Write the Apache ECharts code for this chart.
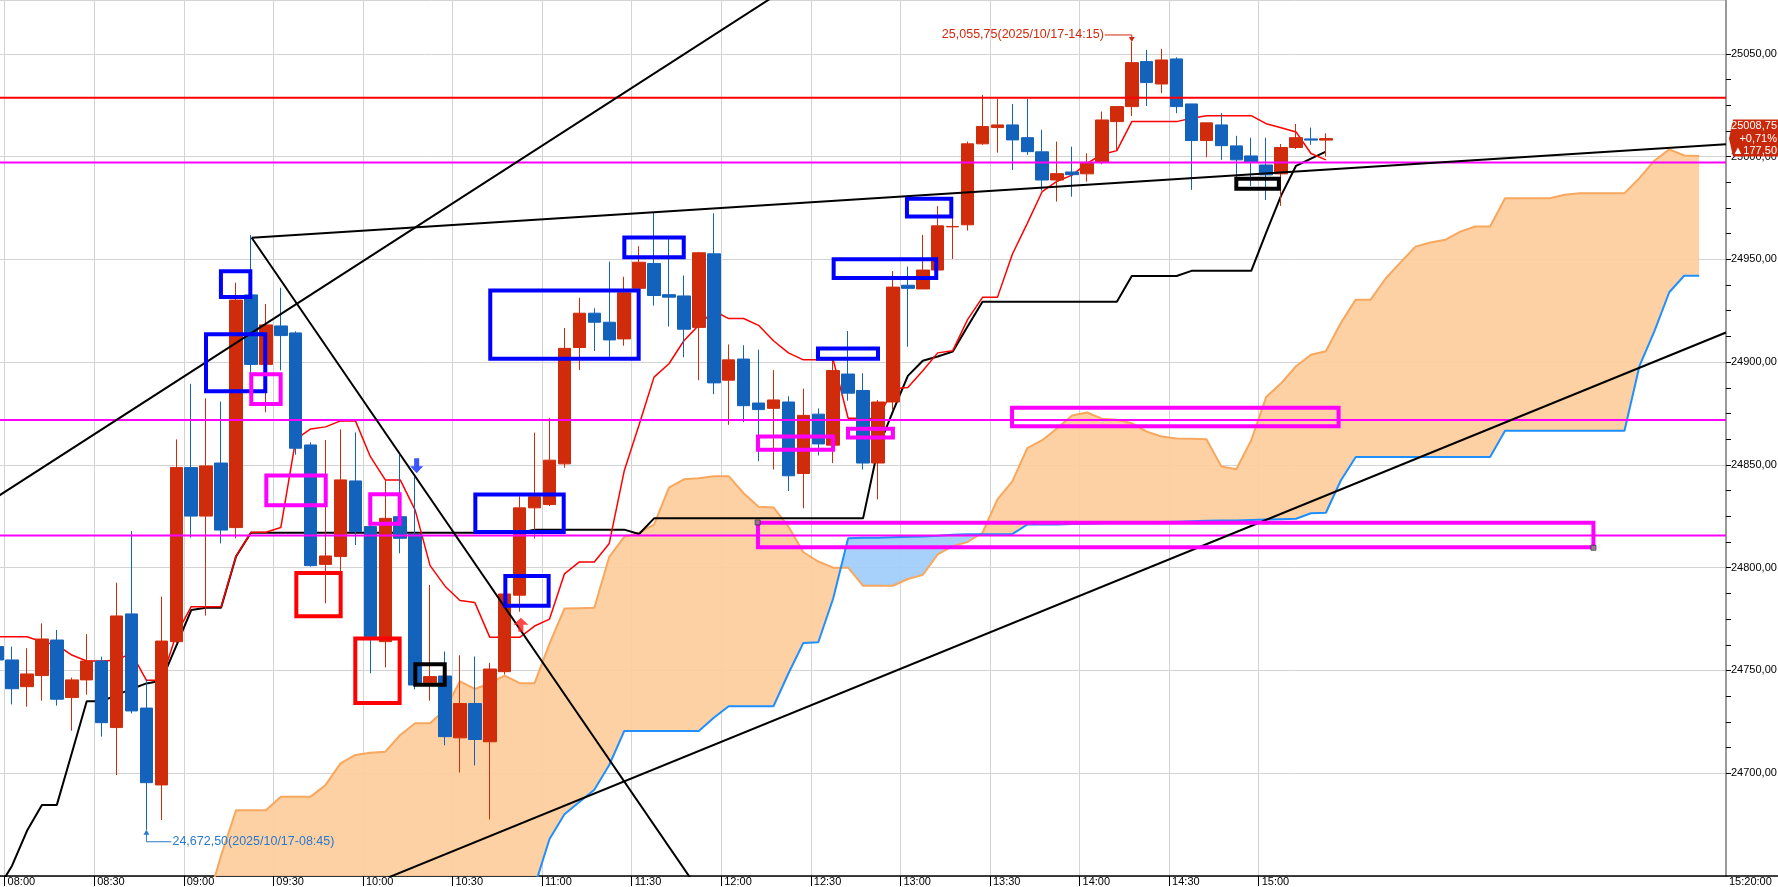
<!DOCTYPE html>
<html>
<head>
<meta charset="utf-8">
<script src="https://cdn.jsdelivr.net/npm/echarts@6/dist/echarts.min.js"></script>
<style>
html,body{margin:0;padding:0;background:#ffffff;}
#c{width:1778px;height:887px;}
</style>
</head>
<body>
<div id="c"></div>
<script>
// ================= DATA =================
// x unit = one 5-minute slot; slot 0 starts at 08:00
const FIRST_SLOT = -1;           // 07:55 bar, partially visible at the left edge
const SLOTS_PER_LABEL = 6;       // 30 minutes
const xTickLabels = ['08:00','08:30','09:00','09:30','10:00','10:30','11:00','11:30',
                     '12:00','12:30','13:00','13:30','14:00','14:30','15:00'];
const lastTimeLabel = '15:20:00';
// price scale labels and the number of small ticks per label step
const yLabelValues = [24700, 24750, 24800, 24850, 24900, 24950, 25000, 25050];
const Y_TICKS_PER_STEP = 4;

// [open, close, low, high] from 07:55 to 15:20
const candles = [
[24761.6,24755.1,24752.0,24764.0],
[24755.1,24741.1,24733.5,24761.6],[24742.1,24748.3,24732.4,24760.8],[24747.5,24765.3,24735.3,24772.9],
[24764.8,24736.0,24732.9,24769.7],[24736.8,24745.4,24720.7,24746.5],[24745.4,24754.6,24738.2,24767.7],
[24754.6,24724.6,24717.8,24756.7],[24722.2,24776.5,24699.1,24792.7],[24777.5,24730.3,24729.1,24817.8],
[24731.7,24695.4,24672.5,24745.8],[24694.3,24764.3,24677.2,24785.9],[24764.0,24848.7,24763.0,24862.4],
[24848.7,24825.1,24814.6,24889.4],[24825.1,24849.5,24776.7,24882.4],[24850.9,24818.3,24811.8,24880.8],
[24819.5,24930.2,24814.3,24938.7],[24932.7,24898.9,24890.0,24961.8],[24898.9,24918.1,24875.6,24928.3],
[24917.6,24912.9,24896.0,24936.2],[24914.2,24858.1,24855.0,24915.0],[24859.7,24801.0,24800.5,24861.0],
[24801.6,24805.7,24782.7,24862.1],[24805.4,24842.7,24798.4,24867.3],[24842.2,24817.5,24811.0,24865.8],
[24820.0,24766.4,24748.6,24821.0],[24764.0,24824.0,24751.5,24842.7],[24824.8,24814.3,24807.0,24854.8],
[24816.2,24742.9,24740.8,24844.3],[24744.0,24747.0,24735.3,24791.6],[24747.3,24717.8,24713.6,24759.2],
[24717.2,24733.9,24700.4,24757.4],[24733.9,24716.4,24703.8,24756.8],[24715.3,24750.7,24677.5,24753.7],
[24749.4,24787.2,24748.0,24788.0],[24786.6,24829.1,24778.6,24834.7],[24829.1,24834.5,24814.2,24865.7],
[24830.7,24852.3,24830.0,24872.8],[24850.5,24906.7,24848.6,24916.6],[24907.1,24923.8,24896.1,24931.3],
[24923.8,24919.4,24905.4,24926.2],[24919.4,24910.8,24902.6,24948.9],[24911.3,24933.7,24908.0,24941.5],
[24935.9,24948.6,24935.9,24956.4],[24948.0,24932.4,24927.5,24972.8],[24932.8,24931.6,24917.3,24960.7],
[24932.2,24916.0,24902.4,24942.1],[24916.9,24953.2,24891.2,24953.6],[24952.7,24889.9,24884.4,24972.4],
[24891.2,24901.1,24869.5,24908.6],[24901.5,24878.8,24870.8,24908.2],[24880.1,24876.9,24851.8,24906.1],
[24877.5,24881.6,24847.7,24896.1],[24880.6,24844.7,24837.3,24883.4],[24845.8,24874.1,24828.9,24887.1],
[24874.7,24860.2,24854.6,24877.5],[24859.6,24895.9,24850.9,24901.1],[24894.2,24884.9,24881.2,24915.1],
[24886.2,24850.9,24847.7,24894.6],[24850.9,24880.6,24833.2,24881.6],[24880.6,24936.5,24876.9,24944.3],
[24937.4,24935.9,24907.5,24946.5],[24935.6,24944.8,24935.6,24961.9],[24944.8,24966.3,24944.0,24975.9],
[24965.8,24966.0,24950.2,24971.0],[24966.8,25006.2,24964.0,25007.3],[25006.2,25014.6,25005.7,25030.0],
[25014.1,25015.4,25001.9,25028.1],[25015.4,25008.1,24993.5,25025.6],[25009.2,25002.4,25000.8,25028.1],
[25002.3,24988.6,24983.4,25013.0],[24988.6,24991.7,24978.1,25007.3],[24992.5,24991.2,24980.5,25004.8],
[24991.6,24997.2,24987.8,25001.6],[24997.2,25017.8,24996.3,25021.9],[25017.0,25024.3,25003.2,25024.6],
[25024.3,25045.7,25019.8,25055.75],[25046.2,25036.0,25024.6,25051.9],[25035.3,25047.0,25030.8,25052.4],
[25047.5,25024.3,25021.1,25048.3],[25025.6,25007.8,24983.8,25025.6],[25007.8,25016.4,24999.7,25016.4],
[25015.4,25005.3,24998.4,25021.1],[25005.2,24998.4,24985.7,25010.1],[25000.3,24997.1,24985.7,25009.2],
[24995.9,24991.1,24978.9,25009.2],[24991.6,25004.4,24976.0,25006.1],[25004.4,25009.2,25003.7,25015.9],
[25008.6,25008.0,25005.7,25014.1],[25008.0,25008.75,25000.0,25011.3]
];

// conversion line (red), one value per bar from 07:55
const tenkan = [
24766.4,24766.4,24766.4,24764.0,24762.4,24757.5,24754.6,24754.6,24755.0,24758.4,
24745.2,24745.2,24767.5,24781.0,24781.0,24781.0,24805.6,24817.2,24817.2,24819.5,
24862.4,24867.5,24868.5,24871.4,24871.4,24854.0,24842.7,24842.7,24828.0,24801.0,
24791.0,24784.0,24783.0,24766.1,24766.1,24766.1,24771.6,24775.0,24797.0,24802.8,
24802.8,24811.8,24847.0,24869.5,24892.7,24899.2,24910.4,24918.0,24925.0,24921.2,
24921.2,24917.9,24910.4,24904.5,24901.1,24901.1,24901.1,24872.7,24872.7,24872.5,
24887.0,24887.7,24895.8,24904.5,24905.5,24920.7,24931.5,24931.5,24952.5,24967.5,
24983.0,24988.0,24991.0,24996.7,25001.0,25002.9,25017.0,25017.0,25017.0,25017.0,
25018.6,25019.9,25019.9,25019.9,25019.9,25016.0,25014.0,25012.0,25001.5,24998.4
];

// base line (black), one value per bar from 07:55
const kijun = [
24643.0,24655.0,24672.0,24684.6,24684.6,24709.7,24735.0,24735.0,24738.0,24741.0,
24743.7,24745.0,24762.0,24779.4,24780.5,24780.5,24805.4,24817.0,24817.0,24817.0,
24817.0,24817.0,24817.0,24817.0,24817.0,24817.0,24817.0,24817.0,24817.0,24817.0,
24817.0,24817.0,24817.0,24817.0,24817.0,24817.0,24818.5,24818.5,24818.5,24818.5,
24818.5,24818.5,24818.5,24816.4,24824.0,24824.0,24824.0,24824.0,24824.0,24824.0,
24824.0,24824.0,24824.0,24824.0,24824.0,24824.0,24824.0,24824.0,24824.0,24858.0,
24876.0,24893.3,24900.7,24902.7,24905.1,24917.3,24929.4,24929.4,24929.4,24929.4,
24929.4,24929.4,24929.4,24929.4,24929.4,24929.4,24941.9,24941.9,24941.9,24941.9,
24944.4,24944.4,24944.4,24944.4,24944.4,24963.0,24981.0,24995.5,24999.0,25002.4
];

// leading span A (orange edge) from slot 13 to slot 113
const SPAN_A_START = 13;
const spanA = [
24635.0,24660.0,24682.0,24682.0,24682.0,24688.6,24688.6,24688.6,
24694.3,24704.8,24708.9,24710.0,24710.5,24718.6,24724.3,24724.3,24731.0,24744.7,
24741.0,24743.8,24747.5,24743.8,24743.8,24763.0,24780.1,24780.3,24780.5,24805.3,
24815.0,24817.0,24821.0,24839.0,24843.0,24843.5,24844.5,24844.5,24836.2,24829.6,
24829.3,24820.0,24807.5,24803.0,24800.0,24800.0,24791.2,24791.2,24791.2,24794.5,
24796.5,24806.5,24810.5,24812.5,24817.0,24833.2,24842.0,24858.2,24862.0,24867.8,
24874.0,24875.5,24872.5,24872.0,24870.3,24866.2,24863.8,24862.8,24862.7,24862.5,
24849.2,24847.9,24862.0,24883.0,24889.7,24898.0,24903.6,24905.3,24919.0,24930.4,
24930.4,24940.7,24948.5,24956.2,24958.2,24959.5,24963.5,24966.0,24966.0,24979.7,
24979.7,24979.7,24979.7,24981.4,24982.2,24982.2,24982.2,24982.2,24989.5,24998.0,
25003.5,25000.5,25000.3
];

// leading span B (blue line) from slot 34 to slot 113
const SPAN_B_START = 34;
const spanB = [
24640.0,24645.0,24668.0,24680.0,24686.0,24692.0,24704.0,24720.5,24720.5,24720.5,
24720.5,24720.5,24720.5,24727.0,24732.6,24732.6,24732.6,24732.6,24748.5,24763.4,
24763.7,24785.0,24814.3,24814.6,24814.6,24814.8,24815.0,24815.2,24815.5,24816.0,
24816.3,24816.3,24816.3,24816.3,24821.0,24821.0,24821.0,24821.2,24821.4,24821.6,
24821.8,24822.0,24822.0,24822.2,24822.4,24822.6,24822.8,24823.0,24823.0,24823.2,
24823.4,24823.6,24823.8,24826.5,24826.7,24842.4,24853.8,24853.8,24853.8,24853.8,
24853.8,24853.8,24853.8,24853.8,24853.8,24853.8,24866.6,24866.6,24866.6,24866.6,
24866.6,24866.6,24866.6,24866.6,24866.6,24898.0,24915.0,24934.0,24942.0,24942.0
];

// horizontal price levels
const redLevels = [25028.6];
const magentaLevels = [24997.1, 24871.8, 24815.6];

// trend lines [slot1, price1, slot2, price2]
const trendLines = [
  [-1, 24832.1, 55, 25094.2],
  [16.55, 24960.5, 62, 24478.7],
  [16.55, 24960.5, 115.3, 25006.0],
  [25, 24647.2, 115.3, 24914.4]
];

// rectangles [slot1, price1, slot2, price2]
const blueBoxes = [
  [14.49,24944.2,16.46,24931.7],[13.49,24913.5,17.46,24885.8],[32.53,24934.9,42.47,24901.7],
  [41.51,24960.6,45.49,24951.0],[31.53,24835.6,37.45,24817.4],[33.54,24795.9,36.44,24781.5],
  [54.48,24906.6,58.50,24901.7],[55.53,24950.0,62.40,24940.9],[60.44,24979.5,63.41,24970.9]
];
const magentaBoxes = [
  [16.52,24894.1,18.49,24879.6],[17.53,24844.9,21.51,24830.4],[24.49,24835.7,26.46,24821.4],
  [50.46,24863.8,55.49,24857.4],[56.49,24867.6,59.50,24863.3],[67.48,24877.8,89.35,24868.8],
  [50.46,24821.9,106.42,24809.9]
];
const redBoxes = [[19.54,24797.4,22.51,24776.4],[23.49,24765.5,26.46,24734.2]];
const blackBoxes = [[27.51,24753.0,29.48,24743.1],[82.50,24989.2,85.35,24984.4]];
const boxHandles = [[50.44,24822.0],[106.42,24809.7]];

// signal arrows
const downSignals = [[27.6, 24849.6]];
const upSignals = [[34.58, 24772.2]];

// extreme annotations and last price tag
const lowMark = {slot: 9, value: 24672.5, text: '24,672,50(2025/10/17-08:45)'};
const highMark = {slot: 75, value: 25055.75, text: '25,055,75(2025/10/17-14:15)'};
const lastPrice = 25008.75;
const priceTagLines = ['25008,75', '+0,71%', '\u25B2177,50'];

// ================= CHART =================
const X_MIN = -0.308, X_MAX = 115.3, Y_MIN = 24650, Y_MAX = 25076.17;
const FONT = '"Liberation Sans", Arial, sans-serif';
const UP = '#d02c0c', DOWN = '#1363bd';
const CLOUD_UP = '#fdcd9b', CLOUD_DOWN = '#9fcdfb';

const mid = k => k + 0.5;
const candleData = candles.map((c, i) => [mid(FIRST_SLOT + i), c[0], c[1], c[2], c[3]]);
const tenkanData = tenkan.map((v, i) => [mid(FIRST_SLOT + i), v]);
const kijunData = kijun.map((v, i) => [mid(FIRST_SLOT + i), v]);
const spanAData = spanA.map((v, i) => [mid(SPAN_A_START + i), v]);
const spanBData = spanB.map((v, i) => [mid(SPAN_B_START + i), v]);
const tickSlots = xTickLabels.map((_, i) => i * SLOTS_PER_LABEL);
const yTickValues = [];
yLabelValues.forEach((v, i) => {
  yTickValues.push(v);
  if (i < yLabelValues.length - 1) {
    const step = (yLabelValues[i + 1] - v) / Y_TICKS_PER_STEP;
    for (let j = 1; j < Y_TICKS_PER_STEP; j++) yTickValues.push(v + j * step);
  }
});

function cloudRuns() {
  const pts = [];
  for (let i = 0; i < spanA.length; i++) {
    const k = SPAN_A_START + i, x = mid(k), a = spanA[i];
    const bi = k - SPAN_B_START;
    const b = (bi >= 0 && bi < spanB.length) ? spanB[bi] : Y_MIN;
    if (pts.length) {
      const p = pts[pts.length - 1];
      const d0 = p.a - p.b, d1 = a - b;
      if ((d0 > 0 && d1 < 0) || (d0 < 0 && d1 > 0)) {
        const t = d0 / (d0 - d1);
        const yc = p.a + t * (a - p.a);
        pts.push({x: p.x + t * (x - p.x), a: yc, b: yc});
      }
    }
    pts.push({x, a, b});
  }
  const runs = [];
  let cur = null;
  pts.forEach(p => {
    const s = p.a > p.b ? 1 : (p.a < p.b ? -1 : 0);
    if (!cur) { cur = {sign: s, pts: [p]}; return; }
    if (s === 0) { cur.pts.push(p); runs.push(cur); cur = {sign: 0, pts: [p]}; return; }
    if (cur.sign === 0) cur.sign = s;
    if (s === cur.sign) cur.pts.push(p);
    else { const last = cur.pts[cur.pts.length - 1]; runs.push(cur); cur = {sign: s, pts: [last, p]}; }
  });
  if (cur) runs.push(cur);
  return runs;
}
const runs = cloudRuns();

function boxSeries(data, color) {
  return {
    type: 'custom', z: 4, silent: true, data: data,
    encode: {x: [0, 2], y: [1, 3]},
    renderItem: function (params, api) {
      const p1 = api.coord([api.value(0), api.value(1)]);
      const p2 = api.coord([api.value(2), api.value(3)]);
      return {type: 'rect',
        shape: {x: Math.min(p1[0], p2[0]), y: Math.min(p1[1], p2[1]),
                width: Math.abs(p2[0] - p1[0]), height: Math.abs(p2[1] - p1[1])},
        style: {fill: 'none', stroke: color, lineWidth: 4}};
    }
  };
}
function levelSeries(levels, color) {
  return levels.map(v => ({type: 'line', z: 3, silent: true, symbol: 'none',
    data: [[X_MIN, v], [X_MAX, v]], lineStyle: {color: color, width: 2}}));
}

const chart = echarts.init(document.getElementById('c'), null, {renderer: 'canvas'});
const option = {
  animation: false,
  backgroundColor: '#ffffff',
  grid: {left: 0, right: 52, top: 0, bottom: 11, containLabel: false, outerBoundsMode: 'none'},
  xAxis: {
    type: 'value', min: X_MIN, max: X_MAX, position: 'bottom',
    axisLine: {show: true, onZero: false, lineStyle: {color: '#000', width: 1.5}},
    axisTick: {show: true, length: 10, lineStyle: {color: '#000'}, customValues: tickSlots},
    axisLabel: {customValues: tickSlots.concat([X_MAX]), align: 'left', margin: 0, padding: [0, 0, 0, 3],
      fontSize: 11, fontFamily: FONT, color: '#000',
      formatter: v => (Math.abs(v - X_MAX) < 1e-6) ? lastTimeLabel : (xTickLabels[Math.round(v / SLOTS_PER_LABEL)] || '')},
    splitLine: {show: true, lineStyle: {color: '#d3d3d3', width: 1}}
  },
  yAxis: [
    { // price scale with labels and ticks
      type: 'value', position: 'right', min: Y_MIN, max: Y_MAX, interval: 50,
      axisLine: {show: true, onZero: false, lineStyle: {color: '#9a9a9a', width: 2}},
      axisTick: {show: true, length: 5, lineStyle: {color: '#000'}, customValues: yTickValues},
      axisLabel: {customValues: yLabelValues, margin: 5, fontSize: 11, fontFamily: FONT, color: '#000',
        formatter: v => v.toFixed(2).replace('.', ',')},
      splitLine: {show: false}
    },
    { // horizontal grid lines only
      type: 'value', position: 'left', min: Y_MIN, max: Y_MAX, interval: 50,
      axisLine: {show: false, onZero: false}, axisTick: {show: false}, axisLabel: {show: false},
      splitLine: {show: true, lineStyle: {color: '#d3d3d3', width: 1}}
    }
  ],
  series: [
    { // cloud fill between span A and span B
      type: 'custom', z: 1, silent: true, data: [[X_MAX, Y_MIN]],
      renderItem: function (params, api) {
        const cs = params.coordSys;
        const kids = [];
        runs.forEach(r => {
          if (r.sign === 0 || r.pts.length < 2) return;
          const upper = r.pts.map(p => api.coord([p.x, Math.max(p.a, p.b)]));
          const lower = r.pts.slice().reverse().map(p => api.coord([p.x, Math.min(p.a, p.b)]));
          kids.push({type: 'polygon', shape: {points: upper.concat(lower)},
            style: {fill: r.sign > 0 ? CLOUD_UP : CLOUD_DOWN, opacity: 0.92}});
        });
        return {type: 'group', children: kids,
          clipPath: {type: 'rect', shape: {x: cs.x, y: cs.y, width: cs.width, height: cs.height}}};
      }
    },
    {type: 'line', z: 1, silent: true, symbol: 'none', data: spanAData, lineStyle: {color: '#f8a75e', width: 2}},
    {type: 'line', z: 1, silent: true, symbol: 'none', data: spanBData, lineStyle: {color: '#1e8fff', width: 2}},
    {type: 'line', z: 1, silent: true, symbol: 'none', data: kijunData, lineStyle: {color: '#000000', width: 2}},
    {type: 'line', z: 1, silent: true, symbol: 'none', data: tenkanData, lineStyle: {color: '#ff0000', width: 1.5}},
    {type: 'candlestick', z: 2, silent: true, data: candleData, barWidth: 13,
      itemStyle: {color: UP, color0: DOWN, borderColor: UP, borderColor0: DOWN, borderWidth: 1}},
    ...levelSeries(redLevels, '#ff0000'),
    ...levelSeries(magentaLevels, '#ff00ff'),
    ...trendLines.map(t => ({type: 'line', z: 3, silent: true, symbol: 'none',
      data: [[t[0], t[1]], [t[2], t[3]]], lineStyle: {color: '#000000', width: 2}})),
    boxSeries(blueBoxes, '#0000ff'),
    boxSeries(magentaBoxes, '#ff00ff'),
    boxSeries(redBoxes, '#ff0000'),
    boxSeries(blackBoxes, '#000000'),
    {type: 'scatter', z: 5, silent: true, data: boxHandles, symbol: 'rect', symbolSize: 5,
      itemStyle: {color: '#8c8c8c', borderColor: '#333', borderWidth: 1}},
    {type: 'scatter', z: 5, silent: true, data: downSignals,
      symbol: 'path://M4,0 L9,0 L9,8 L13,8 L6.5,15 L0,8 L4,8 Z', symbolSize: [13, 15],
      itemStyle: {color: '#0a2cff'}},
    {type: 'scatter', z: 5, silent: true, data: upSignals,
      symbol: 'path://M7.5,0 L15,7 L10,7 L10,14 L5,14 L5,7 L0,7 Z', symbolSize: [15, 14],
      itemStyle: {color: '#ff1a1a'}}
  ]
};
chart.setOption(option);

// ---- annotations placed through the chart's own scales ----
(function addOverlays() {
  const toPx = (x, y) => chart.convertToPixel({xAxisIndex: 0, yAxisIndex: 0}, [x, y]);
  const W = chart.getWidth();
  const lo = toPx(mid(lowMark.slot), lowMark.value);
  const hi = toPx(mid(highMark.slot), highMark.value);
  const corner = toPx(X_MAX, Y_MIN);
  const ty = toPx(X_MAX, lastPrice)[1];
  const ax = corner[0];
  const LOW_C = '#2a78cc', HIGH_C = '#d2280f', TAG_C = '#c9290b';
  const g = [];
  // low annotation
  g.push({type: 'polyline', z: 100, shape: {points: [[lo[0], lo[1] + 2], [lo[0], lo[1] + 12], [lo[0] + 25, lo[1] + 12]]},
    style: {stroke: LOW_C, lineWidth: 1, fill: null}});
  g.push({type: 'polygon', z: 100, shape: {points: [[lo[0], lo[1]], [lo[0] - 3, lo[1] + 5], [lo[0] + 3, lo[1] + 5]]},
    style: {fill: LOW_C}});
  g.push({type: 'text', z: 100, x: lo[0] + 26, y: lo[1] + 12,
    style: {text: lowMark.text, fill: LOW_C, font: '12.5px ' + FONT, align: 'left', verticalAlign: 'middle',
      textAlign: 'left', textVerticalAlign: 'middle'}});
  // high annotation
  const hy = hi[1] - 7;
  g.push({type: 'polyline', z: 100, shape: {points: [[hi[0] - 27, hy], [hi[0], hy], [hi[0], hi[1] - 2]]},
    style: {stroke: HIGH_C, lineWidth: 1, fill: null}});
  g.push({type: 'polygon', z: 100, shape: {points: [[hi[0], hi[1]], [hi[0] - 3, hi[1] - 5], [hi[0] + 3, hi[1] - 5]]},
    style: {fill: HIGH_C}});
  g.push({type: 'text', z: 100, x: hi[0] - 28, y: hy,
    style: {text: highMark.text, fill: HIGH_C, font: '12.5px ' + FONT, align: 'right', verticalAlign: 'middle',
      textAlign: 'right', textVerticalAlign: 'middle'}});
  // x axis line continues under the price scale
  g.push({type: 'line', z: 100, shape: {x1: ax, y1: corner[1], x2: W, y2: corner[1]},
    style: {stroke: '#000', lineWidth: 1.5}});
  // last price tag
  g.push({type: 'polygon', z: 100, shape: {points: [[ax + 3, ty], [ax + 7, ty - 19], [W, ty - 19], [W, ty + 18], [ax + 7, ty + 18]]},
    style: {fill: TAG_C}});
  [-12.5, 0, 12].forEach((dy, i) => {
    g.push({type: 'text', z: 101, x: W - 1, y: ty + dy,
      style: {text: priceTagLines[i], fill: '#ffffff', font: '11px ' + FONT, align: 'right', verticalAlign: 'middle',
        textAlign: 'right', textVerticalAlign: 'middle'}});
  });
  chart.setOption({graphic: g});
})();
</script>
</body>
</html>
